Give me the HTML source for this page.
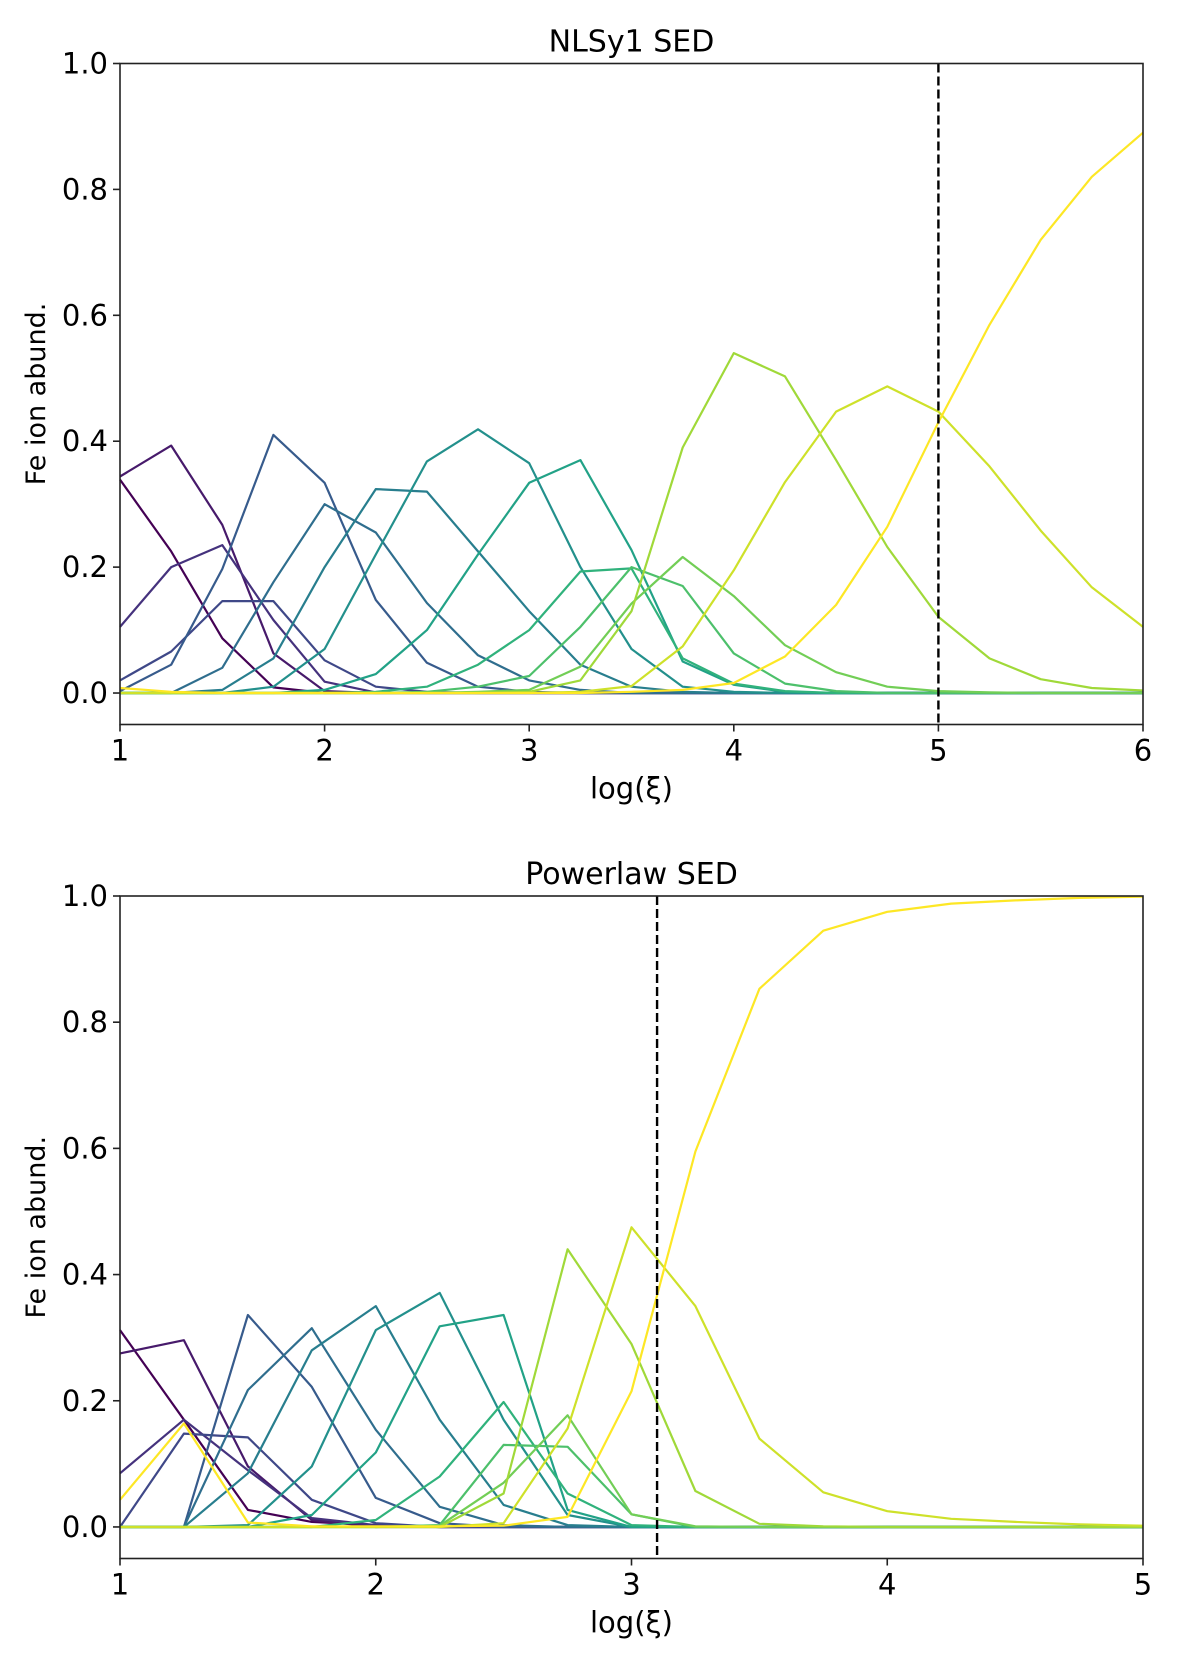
<!DOCTYPE html>
<html><head><meta charset="utf-8"><style>
html,body{margin:0;padding:0;background:#fff;}
svg{display:block;font-family:"DejaVu Sans","Liberation Sans",sans-serif;}
</style></head><body>
<svg id="chart" width="1200" height="1666" viewBox="0 0 1200 1666" xmlns="http://www.w3.org/2000/svg"></svg>
<script>
const topX = [1,1.25,1.5,1.75,2,2.25,2.5,2.75,3,3.25,3.5,3.75,4,4.25,4.5,4.75,5,5.25,5.5,5.75,6];
const topSeries = [
 [0.339,0.225,0.087,0.009,0,0,0,0,0,0,0,0,0,0,0,0,0,0,0,0,0],
 [0.344,0.393,0.267,0.063,0.003,0,0,0,0,0,0,0,0,0,0,0,0,0,0,0,0],
 [0.105,0.2,0.235,0.116,0.018,0.001,0,0,0,0,0,0,0,0,0,0,0,0,0,0,0],
 [0.02,0.066,0.146,0.146,0.052,0.01,0.002,0,0,0,0,0,0,0,0,0,0,0,0,0,0],
 [0.003,0.045,0.197,0.41,0.334,0.148,0.048,0.01,0.002,0,0,0,0,0,0,0,0,0,0,0,0],
 [0,0,0.04,0.176,0.30,0.255,0.143,0.06,0.02,0.005,0,0,0,0,0,0,0,0,0,0,0],
 [0,0,0.005,0.055,0.2,0.324,0.32,0.225,0.13,0.045,0.01,0.002,0,0,0,0,0,0,0,0,0],
 [0,0,0,0.01,0.07,0.22,0.368,0.419,0.365,0.2,0.07,0.01,0.002,0,0,0,0,0,0,0,0],
 [0,0,0,0,0.005,0.03,0.1,0.22,0.334,0.37,0.227,0.05,0.013,0.002,0,0,0,0,0,0,0],
 [0,0,0,0,0,0.002,0.01,0.045,0.1,0.193,0.198,0.055,0.015,0.003,0,0,0,0,0,0,0],
 [0,0,0,0,0,0,0.002,0.01,0.027,0.105,0.2,0.17,0.063,0.015,0.003,0,0,0,0,0,0],
 [0,0,0,0,0,0,0,0.002,0.005,0.042,0.142,0.216,0.154,0.076,0.033,0.01,0.003,0.001,0,0,0],
 [0,0,0,0,0,0,0,0,0.002,0.02,0.13,0.39,0.54,0.503,0.37,0.232,0.121,0.055,0.022,0.008,0.004],
 [0,0,0,0,0,0,0,0,0,0.002,0.011,0.074,0.195,0.335,0.447,0.487,0.447,0.36,0.258,0.168,0.105],
 [0.008,0.002,0,0,0,0,0,0,0,0,0.002,0.005,0.016,0.058,0.14,0.264,0.43,0.585,0.72,0.82,0.89]
];
const botX = [1,1.25,1.5,1.75,2,2.25,2.5,2.75,3,3.25,3.5,3.75,4,4.25,4.5,4.75,5];
const botSeries = [
 [0.312,0.17,0.027,0.008,0.003,0,0,0,0,0,0,0,0,0,0,0,0],
 [0.275,0.296,0.096,0.011,0,0,0,0,0,0,0,0,0,0,0,0,0],
 [0.085,0.17,0.09,0.014,0.003,0,0,0,0,0,0,0,0,0,0,0,0],
 [0,0.148,0.142,0.043,0.006,0,0,0,0,0,0,0,0,0,0,0,0],
 [0,0,0.336,0.222,0.046,0.006,0,0,0,0,0,0,0,0,0,0,0],
 [0,0,0.217,0.315,0.154,0.032,0.003,0,0,0,0,0,0,0,0,0,0],
 [0,0,0.085,0.28,0.35,0.17,0.035,0.003,0,0,0,0,0,0,0,0,0],
 [0,0,0.003,0.096,0.312,0.371,0.17,0.019,0,0,0,0,0,0,0,0,0],
 [0,0,0,0.019,0.118,0.318,0.336,0.027,0,0,0,0,0,0,0,0,0],
 [0,0,0,0,0.011,0.08,0.198,0.053,0.003,0,0,0,0,0,0,0,0],
 [0,0,0,0,0,0.003,0.13,0.127,0.02,0,0,0,0,0,0,0,0],
 [0,0,0,0,0,0.002,0.07,0.177,0.02,0.001,0,0,0,0,0,0,0],
 [0,0,0,0,0,0,0.053,0.44,0.29,0.057,0.005,0.001,0,0,0,0,0],
 [0,0,0,0,0,0,0.006,0.156,0.475,0.35,0.14,0.055,0.025,0.013,0.008,0.004,0.002],
 [0.043,0.164,0.007,0.001,0.001,0.001,0.002,0.016,0.215,0.595,0.853,0.945,0.975,0.988,0.993,0.997,0.999]
];
const topXTicks = [1,2,3,4,5,6];
const botXTicks = [1,2,3,4,5];
const yTicks = [0,0.2,0.4,0.6,0.8,1.0];
const yTickLabels = ["0.0","0.2","0.4","0.6","0.8","1.0"];
const topVLine = 5;
const botVLine = 3.1;

const viridisStops = [[68,1,84],[72,40,120],[62,74,137],[49,104,142],[38,130,142],[31,158,137],[53,183,121],[109,205,89],[180,222,44],[253,231,37]];
function viridis(t){
  const p = t*(viridisStops.length-1); const i = Math.min(Math.floor(p), viridisStops.length-2); const f = p-i;
  const a = viridisStops[i], b = viridisStops[i+1];
  return 'rgb('+a.map((v,k)=>Math.round(v+(b[k]-v)*f)).join(',')+')';
}
const NS = 'http://www.w3.org/2000/svg';
const svg = document.getElementById('chart');
function mk(tag, attrs, parent){ const e=document.createElementNS(NS,tag); for(const k in attrs) e.setAttribute(k,attrs[k]); (parent||svg).appendChild(e); return e; }

function drawPanel(cfg){
  const g = mk('g',{});
  
  
  const L=120,R=1143,T=cfg.top,B=cfg.bottom;
  const xmin=cfg.xmin,xmax=cfg.xmax,ymin=-0.05,ymax=1.0;
  const sx=v=>L+(v-xmin)/(xmax-xmin)*(R-L);
  const sy=v=>B-(v-ymin)/(ymax-ymin)*(B-T);
  // series
  cfg.series.forEach((s,i)=>{
    const pts = s.map((v,j)=>sx(cfg.xs[j]).toFixed(1)+','+sy(v).toFixed(1)).join(' ');
    const pl = mk('polyline',{points:pts,fill:'none',stroke:viridis(i/(cfg.series.length-1)),'stroke-width':2.2,'stroke-linejoin':'round'},g);
    
    
  });
  // dashed line
  const vl = mk('line',{x1:sx(cfg.vline),x2:sx(cfg.vline),y1:T,y2:B,stroke:'#000','stroke-width':2.4,'stroke-dasharray':'9,4'},g);
  
  
  // frame
  const fr = mk('rect',{x:L,y:T,width:R-L,height:B-T,fill:'none',stroke:'#222','stroke-width':1.6},g);
  
  
  cfg.xticks.forEach(t=>{
    mk('line',{x1:sx(t),x2:sx(t),y1:B,y2:B+7,stroke:'#222','stroke-width':1.6},g);
    const tx = mk('text',{x:sx(t),y:B+36,'text-anchor':'middle','font-size':29,fill:'#000'},g);
    tx.textContent = String(t);
    
    
  });
  yTicks.forEach((t,i)=>{
    mk('line',{x1:L-7,x2:L,y1:sy(t),y2:sy(t),stroke:'#222','stroke-width':1.6},g);
    const tx = mk('text',{x:L-12,y:sy(t)+10,'text-anchor':'end','font-size':29,fill:'#000'},g);
    tx.textContent = yTickLabels[i];
    
    
  });
  const ti = mk('text',{x:(L+R)/2,y:T-12,'text-anchor':'middle','font-size':30,fill:'#000'},g);
  ti.textContent = cfg.title;
  
  
  const xl = mk('text',{x:(L+R)/2,y:B+74,'text-anchor':'middle','font-size':29,fill:'#000'},g);
  xl.textContent = 'log(\u03BE)';
  
  
  const yc=(T+B)/2;
  const yl = mk('text',{x:45,y:yc,'text-anchor':'middle','font-size':27,fill:'#000',transform:'rotate(-90 45 '+yc+')'},g);
  yl.textContent = 'Fe ion abund.';
  
  
}
drawPanel({name:'nlsy1-panel',title:'NLSy1 SED',top:63.5,bottom:724.5,xmin:1,xmax:6,xs:topX,series:topSeries,xticks:topXTicks,vline:topVLine});
drawPanel({name:'powerlaw-panel',title:'Powerlaw SED',top:896,bottom:1558.5,xmin:1,xmax:5,xs:botX,series:botSeries,xticks:botXTicks,vline:botVLine});
</script>
</body></html>
